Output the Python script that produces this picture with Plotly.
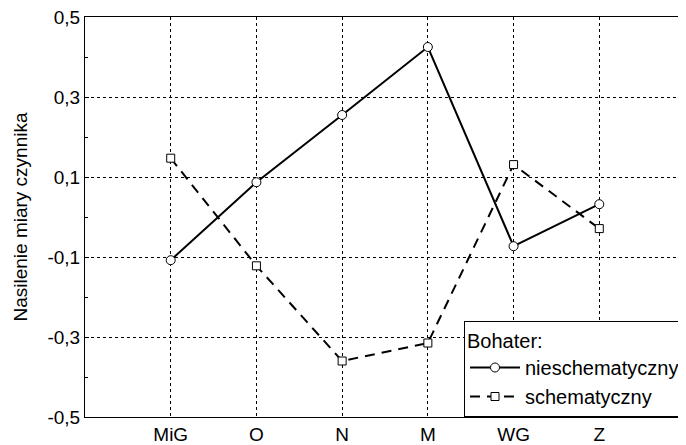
import plotly.graph_objects as go

categories = ["MiG", "O", "N", "M", "WG", "Z"]
nieschematyczny = [-0.108, 0.087, 0.255, 0.425, -0.073, 0.032]
schematyczny = [0.147, -0.122, -0.36, -0.315, 0.131, -0.029]
y_ticks = [-0.5, -0.3, -0.1, 0.1, 0.3, 0.5]
y_tick_labels = ["-0,5", "-0,3", "-0,1", "0,1", "0,3", "0,5"]

xs = list(range(len(categories)))

fig = go.Figure()
fig.add_trace(go.Scatter(
    x=xs, y=nieschematyczny, name="nieschematyczny", mode="lines+markers",
    line=dict(color="black", width=2, dash="solid"),
    marker=dict(symbol="circle", size=9, color="white", line=dict(color="black", width=1)),
))
fig.add_trace(go.Scatter(
    x=xs, y=schematyczny, name="schematyczny", mode="lines+markers",
    line=dict(color="black", width=2, dash="10px,7px"),
    marker=dict(symbol="square", size=8, color="white", line=dict(color="black", width=1)),
))

# page body has an 8px default margin; offset compensated here
fig.update_layout(
    width=678, height=437,
    margin=dict(l=77, r=1, t=9, b=28, autoexpand=False),
    paper_bgcolor="white", plot_bgcolor="white",
    font=dict(family="Liberation Sans, Arial, sans-serif", size=19, color="black"),
    showlegend=True,
    legend=dict(
        title=dict(text="Bohater:", font=dict(size=20)),
        x=1, y=0, xanchor="right", yanchor="bottom",
        bgcolor="white", bordercolor="black", borderwidth=1,
        font=dict(size=20), tracegroupgap=0, itemwidth=50,
    ),
)
fig.update_xaxes(
    range=[-1, 6], tickmode="array", tickvals=xs, ticktext=categories,
    showgrid=True, gridcolor="black", griddash="dot", gridwidth=1,
    showline=True, linecolor="black", linewidth=1, mirror=True,
    ticks="", zeroline=False, tickfont=dict(size=19), automargin=False,
    ticklabeloverflow="allow",
)
fig.update_yaxes(
    range=[-0.5, 0.5], tickmode="array", tickvals=y_ticks, ticktext=y_tick_labels,
    showgrid=True, gridcolor="black", griddash="dot", gridwidth=1,
    showline=True, linecolor="black", linewidth=1, mirror=True,
    ticks="inside", ticklen=4, tickcolor="black", zeroline=False,
    minor=dict(tickvals=[-0.4, -0.2, 0.0, 0.2, 0.4], ticks="inside", ticklen=3, tickcolor="black", showgrid=False),
    title=dict(text="Nasilenie miary czynnika", font=dict(size=19), standoff=14),
    tickfont=dict(size=19), automargin=False, ticklabeloverflow="allow",
)

fig.write_html("out.html")
